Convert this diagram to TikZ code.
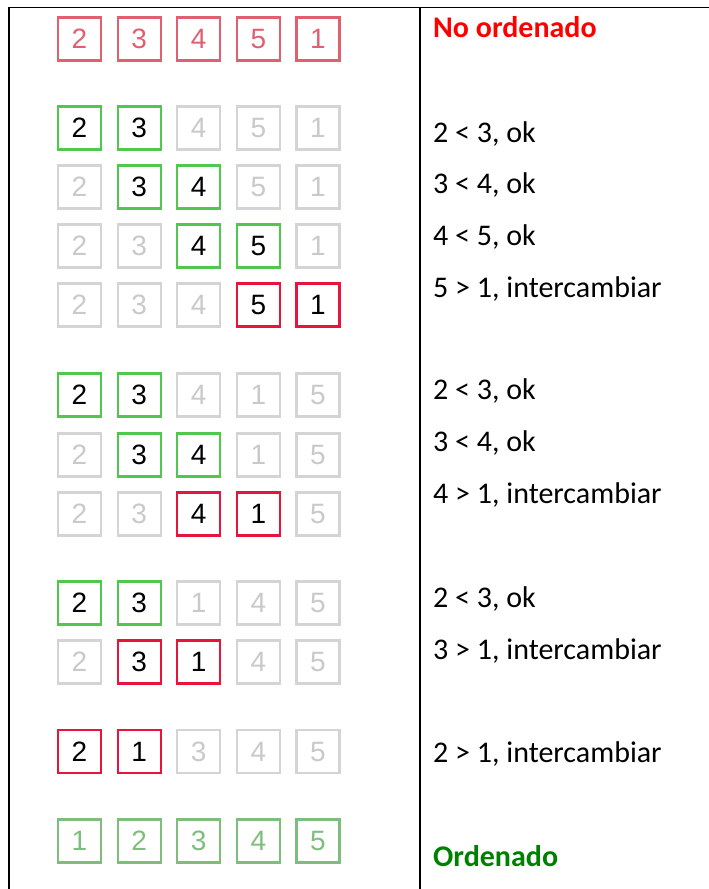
\documentclass[tikz,border=0pt]{standalone}
\usepackage{fontspec}
\setmainfont{Carlito}
\newfontfamily\cajafont{Liberation Sans}
\usetikzlibrary{positioning}

\definecolor{rojosuave}{RGB}{224,96,112}
\definecolor{verdeok}{RGB}{80,200,80}
\definecolor{rojocambio}{RGB}{232,20,60}
\definecolor{grisclaro}{RGB}{212,212,212}
\definecolor{verdefin}{RGB}{125,190,125}
\definecolor{rojotexto}{RGB}{255,0,0}
\definecolor{verdetexto}{RGB}{0,128,0}

\tikzset{
  caja/.style={draw, line width=2.2pt, minimum size=43pt, inner sep=0pt,
    font=\cajafont\fontsize{28}{28}\selectfont},
  cajaini/.style={caja, draw=rojosuave, text=rojosuave},
  cajaok/.style={caja, draw=verdeok, text=black},
  cajacambio/.style={caja, draw=rojocambio, text=black},
  cajagris/.style={caja, draw=grisclaro, text=grisclaro!95!black},
  cajafin/.style={caja, draw=verdefin, text=verdefin},
  nota/.style={anchor=base west, inner sep=0pt, font=\fontsize{30}{30}\selectfont},
}

% una fila de cajas: y, nombre, valor/estilo
\newcommand{\fila}[3]{%
  \foreach \v/\s [count=\i] in {#3}
    \node[\s] (#2-\i) at ({79.5+59.6*(\i-1)}, #1) {\v};
}

\begin{document}
\begin{tikzpicture}[x=1pt, y=-1pt]
    \useasboundingbox (0,0) rectangle (709,889);

    % marco de la tabla
    \coordinate (sup-izq) at (9,7.5);
    \coordinate (sup-der) at (709,7.5);
    \coordinate (inf-izq) at (9,889);
    \coordinate (sup-med) at (420,7.5);
    \coordinate (inf-med) at (420,889);
    \draw[line width=1.8pt] (sup-der) -- (sup-izq) -- (inf-izq);
    \draw[line width=1.8pt] (sup-med) -- (inf-med);

    % estado inicial
    \fila{39}{f1}{2/cajaini, 3/cajaini, 4/cajaini, 5/cajaini, 1/cajaini}

    % primera pasada
    \fila{128}{f2}{2/cajaok, 3/cajaok, 4/cajagris, 5/cajagris, 1/cajagris}
    \fila{187}{f3}{2/cajagris, 3/cajaok, 4/cajaok, 5/cajagris, 1/cajagris}
    \fila{246}{f4}{2/cajagris, 3/cajagris, 4/cajaok, 5/cajaok, 1/cajagris}
    \fila{305}{f5}{2/cajagris, 3/cajagris, 4/cajagris, 5/cajacambio, 1/cajacambio}

    % segunda pasada
    \fila{395}{f6}{2/cajaok, 3/cajaok, 4/cajagris, 1/cajagris, 5/cajagris}
    \fila{455}{f7}{2/cajagris, 3/cajaok, 4/cajaok, 1/cajagris, 5/cajagris}
    \fila{514}{f8}{2/cajagris, 3/cajagris, 4/cajacambio, 1/cajacambio, 5/cajagris}

    % tercera pasada
    \fila{603}{f9}{2/cajaok, 3/cajaok, 1/cajagris, 4/cajagris, 5/cajagris}
    \fila{662}{f10}{2/cajagris, 3/cajacambio, 1/cajacambio, 4/cajagris, 5/cajagris}

    % cuarta pasada
    \fila{751.5}{f11}{2/cajacambio, 1/cajacambio, 3/cajagris, 4/cajagris, 5/cajagris}

    % resultado
    \fila{841}{f12}{1/cajafin, 2/cajafin, 3/cajafin, 4/cajafin, 5/cajafin}

    % notas
    \node[nota, text=rojotexto] (n1) at (433,37) {\bfseries No ordenado};
    \node[nota] (n2) at (433,142) {2 < 3, ok};
    \node[nota] (n3) at (433,193) {3 < 4, ok};
    \node[nota] (n4) at (433,245) {4 < 5, ok};
    \node[nota] (n5) at (433,297) {5 > 1, intercambiar};
    \node[nota] (n6) at (433,399) {2 < 3, ok};
    \node[nota] (n7) at (433,451) {3 < 4, ok};
    \node[nota] (n8) at (433,503) {4 > 1, intercambiar};
    \node[nota] (n9) at (433,607) {2 < 3, ok};
    \node[nota] (n10) at (433,659) {3 > 1, intercambiar};
    \node[nota] (n11) at (433,762) {2 > 1, intercambiar};
    \node[nota, text=verdetexto] (n12) at (433,866) {\bfseries Ordenado};
\end{tikzpicture}
\end{document}
